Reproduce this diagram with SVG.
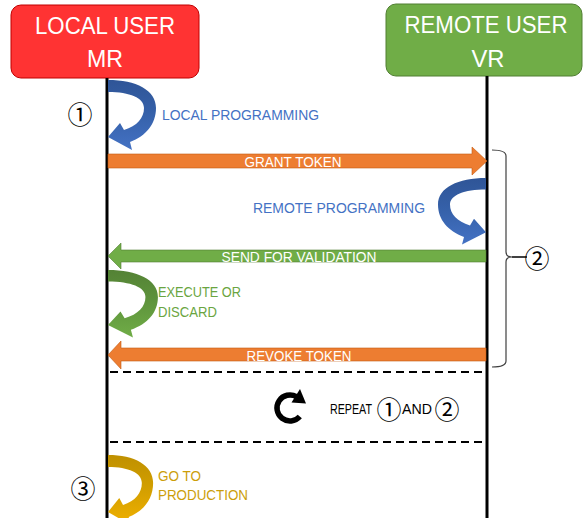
<svg xmlns="http://www.w3.org/2000/svg" xmlns:xlink="http://www.w3.org/1999/xlink" width="584" height="518" viewBox="0 0 584 518">
<style>
.life{stroke:#000;stroke-width:3;fill:none}
.box-title{font-family:"Liberation Sans",Arial,sans-serif;font-size:24.5px;fill:#fff;text-anchor:middle}
.lbl{font-family:"Liberation Sans",Arial,sans-serif;font-size:15px}
.w{fill:#fff;text-anchor:middle}
.circ{font-family:"Noto Sans CJK JP","DejaVu Sans",sans-serif;font-size:25px;fill:#000;text-anchor:middle}
.dash{stroke:#000;stroke-width:2;stroke-dasharray:8 5;fill:none}
</style>
<defs>
<linearGradient id="gBlue" x1="0" y1="0" x2="0" y2="1"><stop offset="0" stop-color="#2F5597"/><stop offset="0.45" stop-color="#3560A8"/><stop offset="1" stop-color="#4472C4"/></linearGradient>
<linearGradient id="gGreen" x1="0" y1="0" x2="0" y2="1"><stop offset="0" stop-color="#548235"/><stop offset="0.45" stop-color="#5E933C"/><stop offset="1" stop-color="#70AD47"/></linearGradient>
<linearGradient id="gGold" x1="0" y1="0" x2="0" y2="1"><stop offset="0" stop-color="#BF9000"/><stop offset="0.45" stop-color="#D19E00"/><stop offset="1" stop-color="#F0B000"/></linearGradient>
<path id="uturn" d="M0,0 C28,0 48,10 48,28 C48,44 38,56 22,62 L24,70 L0,57 L12,43 L16,50 C29,46 36,38 36,28 C36,18 22,12 0,12 Z"/>
</defs>

<g id="local-user">
<rect x="11" y="5" width="188" height="73" rx="10" ry="10" fill="#FF3333" stroke="#C00000" stroke-width="1"/>
<text class="box-title" x="105" y="34" textLength="140" lengthAdjust="spacingAndGlyphs">LOCAL USER</text>
<text class="box-title" x="105" y="67" textLength="36" lengthAdjust="spacingAndGlyphs">MR</text>
</g>
<g id="remote-user">
<rect x="386" y="4" width="196" height="72" rx="10" ry="10" fill="#70AD47" stroke="#507E32" stroke-width="1"/>
<text class="box-title" x="486" y="33" textLength="163" lengthAdjust="spacingAndGlyphs">REMOTE USER</text>
<text class="box-title" x="488" y="67" textLength="33" lengthAdjust="spacingAndGlyphs">VR</text>
</g>

<g id="lifelines">
<line class="life" x1="107" y1="78" x2="107" y2="518"/>
<line class="life" x1="487" y1="76" x2="487" y2="518"/>
</g>

<g id="connectors">
<g id="local-programming">
<use xlink:href="#uturn" href="#uturn" fill="url(#gBlue)" transform="translate(108,80)"/>
<text class="lbl" x="162" y="120" fill="#4472C4" textLength="157" lengthAdjust="spacingAndGlyphs">LOCAL PROGRAMMING</text>
</g>
<g id="grant-token">
<polygon points="108,154 472,154 472,147 487,161 472,175 472,168 108,168" fill="#ED7D31" stroke="#C55A11" stroke-width="0.6"/>
<text class="lbl w" x="293" y="167" textLength="97" lengthAdjust="spacingAndGlyphs">GRANT TOKEN</text>
</g>
<g id="remote-programming">
<use xlink:href="#uturn" href="#uturn" fill="url(#gBlue)" transform="translate(486,178) scale(-1,0.95)"/>
<text class="lbl" x="253" y="213" fill="#4472C4" textLength="172" lengthAdjust="spacingAndGlyphs">REMOTE PROGRAMMING</text>
</g>
<g id="send-for-validation">
<polygon points="486,250 121,250 121,243 108,256 121,269 121,262 486,262" fill="#70AD47" stroke="#507E32" stroke-width="0.6"/>
<text class="lbl w" x="299" y="262" textLength="155" lengthAdjust="spacingAndGlyphs">SEND FOR VALIDATION</text>
</g>
<g id="execute-or-discard">
<use xlink:href="#uturn" href="#uturn" fill="url(#gGreen)" transform="translate(108,270) scale(1.04,0.965)"/>
<text class="lbl" x="158" y="297" fill="#6AA541" textLength="83" lengthAdjust="spacingAndGlyphs">EXECUTE OR</text>
<text class="lbl" x="158" y="317" fill="#6AA541" textLength="59" lengthAdjust="spacingAndGlyphs">DISCARD</text>
</g>
<g id="revoke-token">
<polygon points="486,348 121,348 121,341 108,355 121,369 121,361 486,361" fill="#ED7D31" stroke="#C55A11" stroke-width="0.6"/>
<text class="lbl w" x="299" y="361" textLength="105" lengthAdjust="spacingAndGlyphs">REVOKE TOKEN</text>
</g>
<g id="go-to-production">
<use xlink:href="#uturn" href="#uturn" fill="url(#gGold)" transform="translate(108,455) scale(0.94,1)"/>
<text class="lbl" x="158" y="481" fill="#CC9E0A" textLength="43" lengthAdjust="spacingAndGlyphs">GO TO</text>
<text class="lbl" x="158" y="500" fill="#CC9E0A" textLength="90" lengthAdjust="spacingAndGlyphs">PRODUCTION</text>
</g>
</g>

<g id="bracket">
<path d="M492,150 C500,150 506,151 506,156 L506,252 C506,255 508,257 512,257 C508,257 506,259 506,262 L506,361 C506,365 500,367 492,367" fill="none" stroke="#404040" stroke-width="1.2"/>
<line x1="512" y1="257" x2="527" y2="257" stroke="#000" stroke-width="1.5"/>
<text class="circ" x="537" y="267.5">②</text>
</g>

<g id="step-markers">
<text class="circ" x="80" y="123.5">①</text>
<text class="circ" x="83" y="497.5">③</text>
</g>

<g id="separators">
<line class="dash" x1="110" y1="372" x2="485" y2="372"/>
<line class="dash" x1="110" y1="442" x2="485" y2="442"/>
</g>

<g id="repeat">
<path d="M299.8,416.5 A13,13 0 1 1 296.5,396.7" fill="none" stroke="#000" stroke-width="5.5"/>
<polygon points="291.5,402.5 300,389 306,403.5" fill="#000"/>
<text class="lbl" y="414" fill="#000"><tspan x="330" textLength="42" lengthAdjust="spacingAndGlyphs">REPEAT</tspan><tspan class="circ" x="389" y="418.5">①</tspan><tspan x="402" y="414" textLength="30" lengthAdjust="spacingAndGlyphs">AND</tspan><tspan class="circ" x="447" y="418.5">②</tspan></text>
</g>
</svg>
